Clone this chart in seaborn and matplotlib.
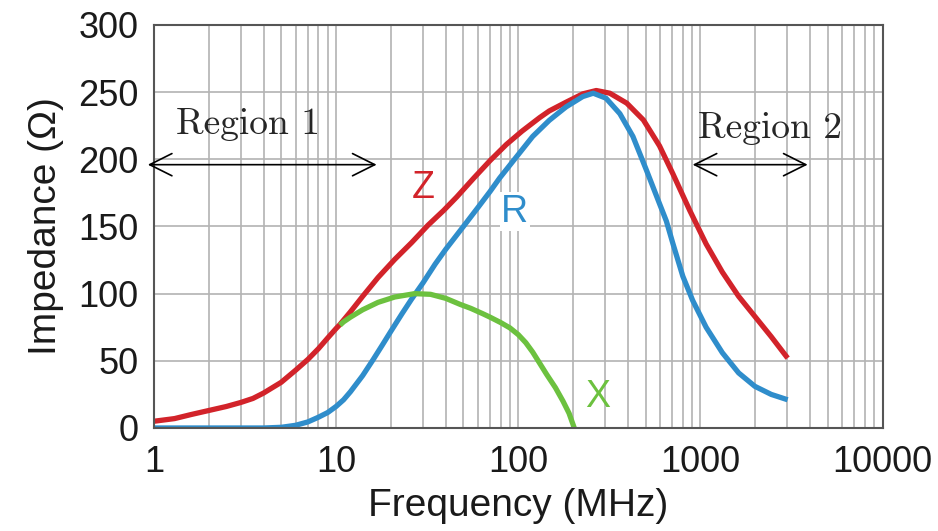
import numpy as np
import pandas as pd
import matplotlib
matplotlib.use("Agg")
import matplotlib.pyplot as plt
import seaborn as sns
from matplotlib.ticker import LogLocator, NullFormatter, FixedLocator

# values (frequency in MHz, impedance in ohm)
z_freq = [1.0, 1.3, 1.6, 2.0, 2.5, 3.0, 3.5, 4.0, 5.0, 6.0, 7.0, 8.0, 9.0, 10,
          10.5, 12, 14, 17, 21, 26, 32, 39, 46, 57, 70, 86, 105, 131, 148, 183,
          226, 268, 318, 394, 486, 596, 707, 873, 1074, 1319, 1620, 1990, 2445,
          3010]
z_val = [5, 7, 10, 13, 16, 19, 22, 26, 34, 43, 51, 59, 67, 74,
         77, 86.5, 98, 112, 125.5, 138, 151, 162, 172, 186, 199, 211, 221, 231,
         236, 242.5, 248.7, 251.2, 249.2, 241.8, 229.3, 210, 189, 162, 137, 116,
         98, 83, 68, 52]

r_freq = [1, 2, 3, 4, 5, 6, 7, 8, 9, 10, 11, 12, 14, 16, 18, 20, 23, 26, 30, 35,
          40, 50, 60, 70, 79, 98, 120, 148, 183, 226, 258, 303, 361, 426, 505, 596,
          650, 707, 800, 906, 1074, 1319, 1620, 1990, 2445, 3010]
r_val = [0, 0, 0, 0, 0.5, 2, 4.5, 8, 11.5, 16, 21, 27, 39, 51, 62, 72, 85, 96,
         108, 122, 133, 150, 164, 176, 186, 202, 217, 229, 239, 246.7, 249.2,
         245.5, 234, 217, 192, 167, 154, 137, 113, 95, 75, 56, 41, 31, 25, 21]

x_freq = [10.5, 11, 12, 14, 17, 21, 27, 33, 40, 48, 55, 64, 70, 80, 90, 100, 110,
          120, 130, 143, 160, 176, 190, 203]
x_val = [76.5, 79, 82.5, 88, 93.5, 97.5, 100, 99.5, 96.5, 92, 89, 85, 82.5, 78.5,
         74.5, 69.5, 63.5, 56.5, 49, 40, 30, 20, 11, 0]

x_ticks = [1, 10, 100, 1000, 10000]
x_tick_labels = ["1", "10", "100", "1000", "10000"]
y_ticks = [0, 50, 100, 150, 200, 250, 300]

colors = {"Z": "#d2232a", "R": "#2f8dcb", "X": "#6cc13f"}

df = pd.concat([
    pd.DataFrame({"freq": z_freq, "imp": z_val, "curve": "Z"}),
    pd.DataFrame({"freq": r_freq, "imp": r_val, "curve": "R"}),
    pd.DataFrame({"freq": x_freq, "imp": x_val, "curve": "X"}),
])

sns.set_style("white")
plt.rcParams["font.family"] = ["Liberation Sans", "DejaVu Sans"]

fig, ax = plt.subplots(figsize=(9.38, 5.31), dpi=100)
fig.subplots_adjust(left=0.164, right=0.941, bottom=0.194, top=0.953)

sns.lineplot(data=df, x="freq", y="imp", hue="curve", palette=colors,
             estimator=None, sort=False, linewidth=3.8, legend=False, ax=ax)
for ln in ax.lines:
    ln.set_solid_joinstyle("round")
    ln.set_solid_capstyle("butt")

ax.set_xscale("log")
ax.set_xlim(1, 10000)
ax.set_ylim(0, 300)
ax.xaxis.set_major_locator(FixedLocator(x_ticks))
ax.set_xticklabels(x_tick_labels)
ax.xaxis.set_minor_locator(LogLocator(base=10, subs=range(2, 10)))
ax.xaxis.set_minor_formatter(NullFormatter())
ax.set_yticks(y_ticks)

ax.grid(which="major", color="#b3b3b3", lw=1.2)
ax.grid(which="minor", axis="x", color="#b3b3b3", lw=1.2)
ax.set_axisbelow(True)
ax.tick_params(which="both", length=0, labelsize=26, colors="#1a1a1a")
ax.tick_params(axis="y", pad=11)
ax.tick_params(axis="x", pad=12)
for s in ax.spines.values():
    s.set_color("#555555")
    s.set_linewidth(1.5)

ax.set_xlabel("Frequency (MHz)", fontsize=28, color="#1a1a1a", labelpad=6)
ax.set_ylabel("Impedance (Ω)", fontsize=28, color="#1a1a1a", labelpad=10)

# curve labels
ax.text(29.9, 179, "Z", color=colors["Z"], fontsize=27, ha="center", va="center")
ax.text(95.7, 161, "R", color=colors["R"], fontsize=27, ha="center", va="center",
        bbox=dict(facecolor="white", edgecolor="none", pad=1))
ax.text(273, 23, "X", color=colors["X"], fontsize=27, ha="center", va="center")

# regions
arrow = dict(arrowstyle="<->,head_length=0.4,head_width=0.2", color="black",
             lw=1.2, mutation_scale=40, shrinkA=0, shrinkB=0)
ax.annotate("", xy=(0.927, 196), xytext=(16.7, 196), arrowprops=arrow,
            annotation_clip=False)
ax.annotate("", xy=(906, 196), xytext=(3875, 196), arrowprops=arrow,
            annotation_clip=False)
ax.text(3.28, 226, "Region 1", family="cmr10", fontsize=27, ha="center", va="center")
ax.text(2400, 223, "Region 2", family="cmr10", fontsize=27, ha="center", va="center")

fig.savefig("out.png", dpi=100)
